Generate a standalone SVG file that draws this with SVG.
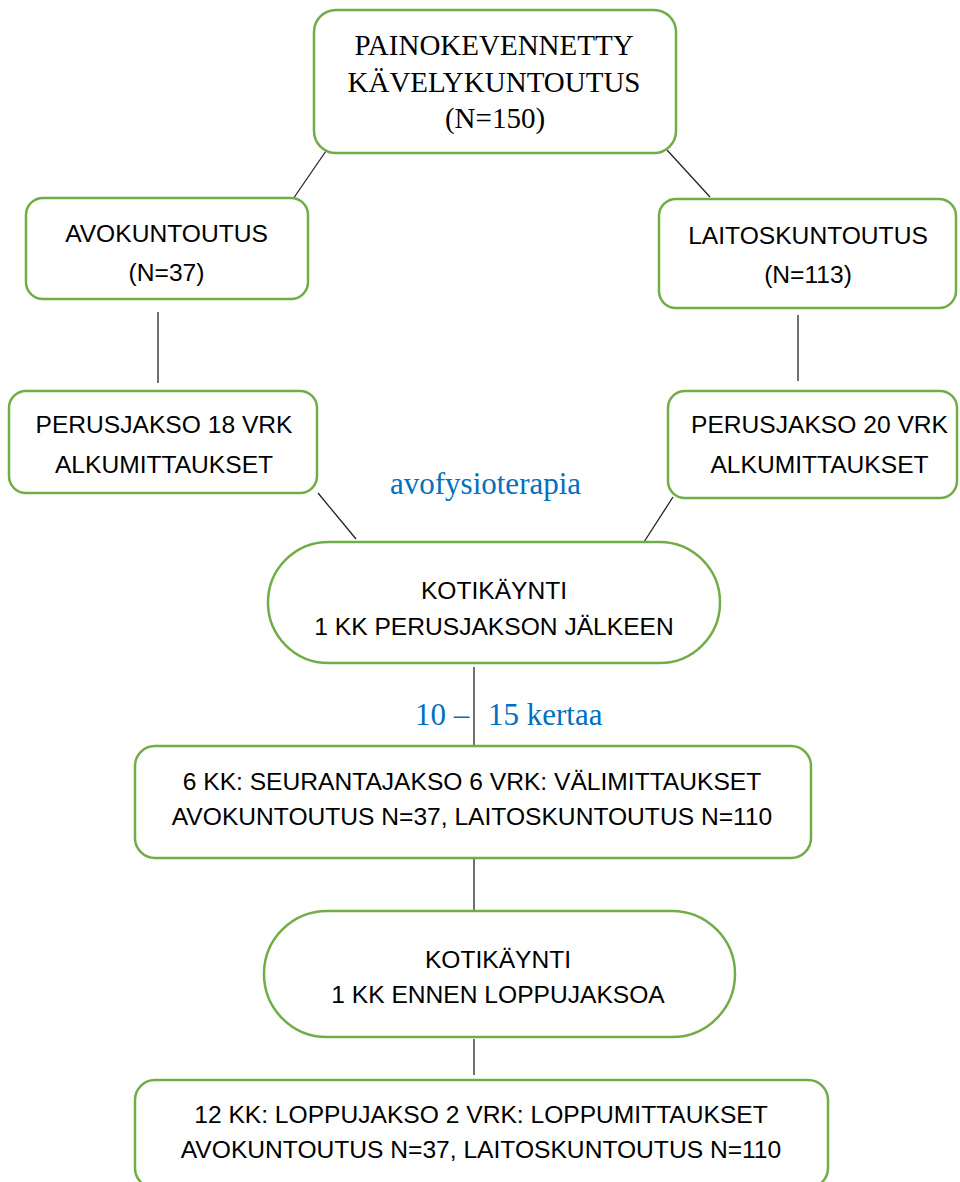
<svg xmlns="http://www.w3.org/2000/svg" width="960" height="1182" viewBox="0 0 960 1182">
<style>
.box{fill:#fff;stroke:#70AD47;stroke-width:2.5}
.sans{font-family:"Liberation Sans",Arial,sans-serif;font-size:24.6px;fill:#000;text-anchor:middle}
.serif{font-family:"Liberation Serif","Times New Roman",serif;font-size:29px;fill:#000;text-anchor:middle}
.blue{font-family:"Liberation Serif","Times New Roman",serif;font-size:31px;fill:#0070C0}
.conn line{stroke:#222;stroke-width:1.3}
</style>
<rect width="960" height="1182" fill="#fff"/>
<g id="connectors" class="conn">
<line x1="326" y1="151" x2="293" y2="199"/>
<line x1="667" y1="150" x2="710" y2="197"/>
<line x1="158" y1="312" x2="158" y2="383"/>
<line x1="798" y1="315" x2="798" y2="381"/>
<line x1="318" y1="493" x2="356" y2="539"/>
<line x1="673" y1="497" x2="644" y2="542"/>
<line x1="474" y1="667" x2="474" y2="746"/>
<line x1="474" y1="858" x2="474" y2="911"/>
<line x1="474" y1="1039" x2="474" y2="1075"/>
</g>
<g id="painokevennetty">
<rect class="box" x="314" y="10" width="362" height="143" rx="22"/>
<text class="serif" x="494" y="55">PAINOKEVENNETTY</text>
<text class="serif" x="494" y="92">KÄVELYKUNTOUTUS</text>
<text class="serif" x="495" y="128">(N=150)</text>
</g>
<g id="avokuntoutus">
<rect class="box" x="26" y="198" width="282" height="101" rx="17"/>
<text class="sans" x="166.5" y="242">AVOKUNTOUTUS</text>
<text class="sans" x="166.5" y="281">(N=37)</text>
</g>
<g id="laitoskuntoutus">
<rect class="box" x="659" y="199" width="297" height="109" rx="17"/>
<text class="sans" x="808" y="244">LAITOSKUNTOUTUS</text>
<text class="sans" x="808" y="283">(N=113)</text>
</g>
<g id="perusjakso18">
<rect class="box" x="9" y="391" width="308" height="102" rx="17"/>
<text class="sans" x="164" y="433">PERUSJAKSO 18 VRK</text>
<text class="sans" x="164" y="473">ALKUMITTAUKSET</text>
</g>
<g id="perusjakso20">
<rect class="box" x="668" y="391" width="289" height="107" rx="17"/>
<text class="sans" x="819.5" y="433">PERUSJAKSO 20 VRK</text>
<text class="sans" x="819.5" y="473">ALKUMITTAUKSET</text>
</g>
<g id="label-avofysioterapia">
<text class="blue" x="390" y="494">avofysioterapia</text>
</g>
<g id="kotikaynti1">
<rect class="box" x="268" y="542" width="452" height="121" rx="60.5"/>
<text class="sans" x="494" y="599">KOTIKÄYNTI</text>
<text class="sans" x="494" y="635">1 KK PERUSJAKSON JÄLKEEN</text>
</g>
<g id="label-kertaa">
<text class="blue" x="415" y="725">10 –<tspan x="488">15 kertaa</tspan></text>
</g>
<g id="seurantajakso">
<rect class="box" x="135" y="746" width="676" height="112" rx="20"/>
<text class="sans" x="472" y="790">6 KK: SEURANTAJAKSO 6 VRK: VÄLIMITTAUKSET</text>
<text class="sans" x="472" y="825">AVOKUNTOUTUS N=37, LAITOSKUNTOUTUS N=110</text>
</g>
<g id="kotikaynti2">
<rect class="box" x="264" y="911" width="471" height="126" rx="63"/>
<text class="sans" x="498" y="968">KOTIKÄYNTI</text>
<text class="sans" x="498" y="1003">1 KK ENNEN LOPPUJAKSOA</text>
</g>
<g id="loppujakso">
<rect class="box" x="135" y="1080" width="693" height="108" rx="20"/>
<text class="sans" x="481" y="1123">12 KK: LOPPUJAKSO 2 VRK: LOPPUMITTAUKSET</text>
<text class="sans" x="481" y="1158">AVOKUNTOUTUS N=37, LAITOSKUNTOUTUS N=110</text>
</g>
</svg>
